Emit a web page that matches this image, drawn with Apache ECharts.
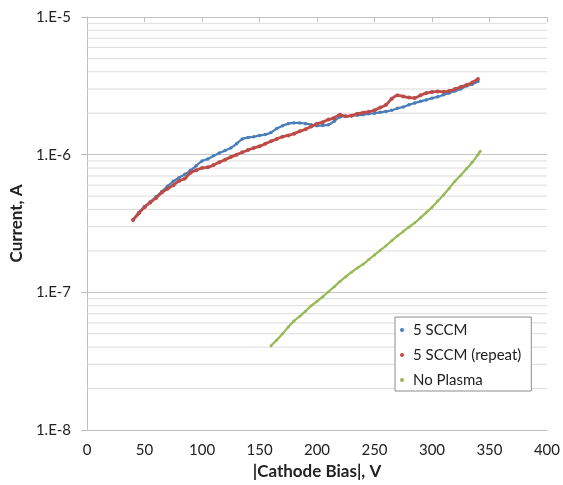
<!DOCTYPE html>
<html>
<head>
<meta charset="utf-8">
<script src="https://cdn.jsdelivr.net/npm/echarts@6/dist/echarts.min.js"></script>
<style>html,body{margin:0;padding:0;background:#fff}#c{width:563px;height:485px}</style>
</head>
<body>
<div id="c"></div>
<script>
// Cathode bias (V) sample positions for the two 5 SCCM runs
var biasV = [40,45,50,55,60,65,70,75,80,85,90,95,100,105,110,115,120,125,130,135,140,145,150,155,160,165,170,175,180,185,190,195,200,205,210,215,220,225,230,235,240,245,250,255,260,265,270,275,280,285,290,295,300,305,310,315,320,325,330,335,340];
// Current (A), 5 SCCM
var sccm5 = [3.35e-7,3.8e-7,4.2e-7,4.55e-7,4.95e-7,5.4e-7,5.9e-7,6.4e-7,6.8e-7,7.2e-7,7.7e-7,8.3e-7,9.0e-7,9.3e-7,9.8e-7,1.03e-6,1.07e-6,1.12e-6,1.2e-6,1.3e-6,1.33e-6,1.35e-6,1.38e-6,1.4e-6,1.45e-6,1.55e-6,1.62e-6,1.68e-6,1.7e-6,1.7e-6,1.68e-6,1.65e-6,1.62e-6,1.63e-6,1.65e-6,1.75e-6,1.88e-6,1.9e-6,1.92e-6,1.93e-6,1.95e-6,1.98e-6,2.0e-6,2.03e-6,2.06e-6,2.1e-6,2.17e-6,2.22e-6,2.3e-6,2.37e-6,2.44e-6,2.5e-6,2.57e-6,2.63e-6,2.72e-6,2.8e-6,2.9e-6,3.0e-6,3.15e-6,3.25e-6,3.4e-6];
// Current (A), 5 SCCM (repeat)
var sccm5Repeat = [3.35e-7,3.75e-7,4.15e-7,4.5e-7,4.85e-7,5.3e-7,5.65e-7,6.0e-7,6.45e-7,6.7e-7,7.4e-7,7.7e-7,8.0e-7,8.1e-7,8.4e-7,8.8e-7,9.2e-7,9.6e-7,1.0e-6,1.04e-6,1.08e-6,1.12e-6,1.15e-6,1.2e-6,1.25e-6,1.3e-6,1.35e-6,1.38e-6,1.42e-6,1.48e-6,1.53e-6,1.6e-6,1.68e-6,1.72e-6,1.8e-6,1.85e-6,1.95e-6,1.9e-6,1.92e-6,1.98e-6,2.02e-6,2.05e-6,2.1e-6,2.2e-6,2.3e-6,2.55e-6,2.7e-6,2.65e-6,2.6e-6,2.58e-6,2.7e-6,2.8e-6,2.85e-6,2.88e-6,2.86e-6,2.9e-6,3.0e-6,3.1e-6,3.2e-6,3.35e-6,3.55e-6];
// No plasma
var noPlasmaV = [160,165,170,175,180,185,190,195,200,205,210,215,220,225,230,235,240,245,250,255,260,265,270,275,280,285,290,295,300,305,310,315,320,325,330,335,340,342];
var noPlasmaI = [4.1e-8,4.5e-8,5.0e-8,5.6e-8,6.2e-8,6.7e-8,7.3e-8,8.0e-8,8.6e-8,9.3e-8,1.01e-7,1.1e-7,1.2e-7,1.3e-7,1.4e-7,1.5e-7,1.6e-7,1.73e-7,1.87e-7,2.02e-7,2.18e-7,2.37e-7,2.57e-7,2.77e-7,2.98e-7,3.2e-7,3.48e-7,3.8e-7,4.15e-7,4.6e-7,5.1e-7,5.7e-7,6.4e-7,7.1e-7,7.9e-7,8.8e-7,1.0e-6,1.06e-6];
// axis ticks
var xTicks = {min: 0, max: 400, interval: 50};
var yRange = {min: 1e-8, max: 1e-5};
var minorGrid = [2e-8,3e-8,4e-8,5e-8,6e-8,7e-8,8e-8,9e-8,2e-7,3e-7,4e-7,5e-7,6e-7,7e-7,8e-7,9e-7,2e-6,3e-6,4e-6,5e-6,6e-6,7e-6,8e-6,9e-6];

function pairs(xs, ys){ return xs.map(function(x,i){ return [x, ys[i]]; }); }
// minor gridlines as horizontal segments across the x range, broken between values
var minorData = [];
minorGrid.forEach(function(v){
  minorData.push([xTicks.min, v], [xTicks.max, v], ['-', '-']);
});

var font = 'Lato, "Open Sans", sans-serif';
var chart = echarts.init(document.getElementById('c'));
chart.setOption({
  animation: false,
  backgroundColor: '#fff',
  textStyle: {fontFamily: font},
  grid: {left: 85, right: 16, top: 17, bottom: 55},
  legend: {
    orient: 'vertical', left: 395, top: 317,
    backgroundColor: '#fff', borderColor: '#8c8c8c', borderWidth: 1,
    padding: [4, 10, 2, 5],
    itemWidth: 12, itemHeight: 4, itemGap: 7, icon: 'circle',
    textStyle: {fontFamily: font, fontSize: 15, color: '#222', lineHeight: 18},
    data: ['5 SCCM', '5 SCCM (repeat)', 'No Plasma']
  },
  xAxis: [{
    type: 'value', min: xTicks.min, max: xTicks.max, interval: xTicks.interval,
    name: '|Cathode Bias|, V', nameLocation: 'middle', nameGap: 31,
    nameTextStyle: {fontFamily: font, fontSize: 17, fontWeight: 'bold', color: '#222'},
    axisLine: {show: true, lineStyle: {color: '#bfbfbf'}},
    axisTick: {show: false},
    splitLine: {show: false},
    axisLabel: {fontFamily: font, fontSize: 15, color: '#222', margin: 13}
  }, {
    type: 'value', position: 'top', min: xTicks.min, max: xTicks.max, interval: xTicks.interval,
    axisLine: {show: false},
    axisTick: {show: true, inside: true, length: 5, lineStyle: {color: '#bfbfbf'}},
    axisLabel: {show: false},
    splitLine: {show: false}
  }],
  yAxis: {
    type: 'log', logBase: 10, min: yRange.min, max: yRange.max,
    name: 'Current, A', nameLocation: 'middle', nameGap: 60, nameRotate: 90,
    nameTextStyle: {fontFamily: font, fontSize: 17, fontWeight: 'bold', color: '#222'},
    axisLine: {show: true, lineStyle: {color: '#bfbfbf'}},
    axisTick: {show: true, length: 6, lineStyle: {color: '#bfbfbf'}},
    splitLine: {show: true, lineStyle: {color: '#c4c4c4'}},
    axisLabel: {fontFamily: font, fontSize: 15, color: '#222', margin: 16,
      formatter: function(v){ return '1.E' + Math.round(Math.log10(v)); }}
  },
  series: [{
    name: 'minor', type: 'line', data: minorData, z: 1, silent: true,
    symbol: 'none', connectNulls: false,
    lineStyle: {color: '#dcdcdc', width: 1},
    tooltip: {show: false}
  }, {
    name: '5 SCCM', type: 'line', xAxisIndex: 0,
    data: pairs(biasV, sccm5), smooth: 0.3,
    symbol: 'circle', symbolSize: 3.5, showSymbol: true,
    lineStyle: {color: '#4a7ebb', width: 2.2},
    itemStyle: {color: '#4a7ebb'},
    z: 2
  }, {
    name: '5 SCCM (repeat)', type: 'line', xAxisIndex: 0,
    data: pairs(biasV, sccm5Repeat), smooth: 0.3,
    symbol: 'circle', symbolSize: 4, showSymbol: true,
    lineStyle: {color: '#be4b48', width: 2.8},
    itemStyle: {color: '#be4b48'},
    z: 3
  }, {
    name: 'No Plasma', type: 'line', xAxisIndex: 0,
    data: pairs(noPlasmaV, noPlasmaI), smooth: 0.3,
    symbol: 'circle', symbolSize: 3, showSymbol: true,
    lineStyle: {color: '#98b954', width: 2.2},
    itemStyle: {color: '#98b954'},
    z: 3
  }]
});
</script>
</body>
</html>
